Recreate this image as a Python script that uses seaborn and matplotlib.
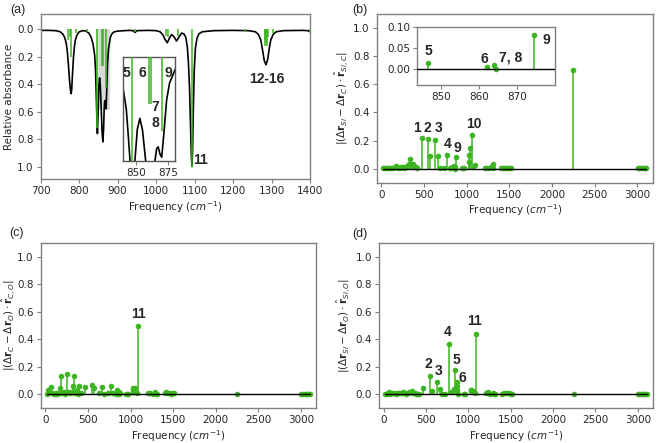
import numpy as np
import matplotlib
matplotlib.use('Agg')
import matplotlib.pyplot as plt
from matplotlib.patches import Rectangle
import seaborn as sns

sns.set_style('ticks')
plt.rcParams['font.family'] = ['DejaVu Sans']
plt.rcParams['mathtext.fontset'] = 'dejavusans'

GREEN = '#3cb521'
SPINE = '#808080'

# ---------------- panel (a) data ----------------
spec_freq = [700, 720, 740, 750, 757, 762, 766, 769, 772, 775, 777.5, 779, 780.5, 782.5, 785, 787.5,
             790, 794, 800, 810, 818, 825, 831, 836, 840.2, 842.5, 844, 845.4, 847.3, 849.2, 851,
             853, 855, 857.5, 859.5, 861.5, 863.5, 864.7, 866, 867.2, 868.5, 869.9, 871.5, 873.7,
             876, 878.8, 881, 885, 890, 900, 930, 940, 945, 950, 980, 1000, 1010, 1017, 1023, 1029,
             1034, 1040, 1046, 1053, 1059, 1066, 1072, 1077, 1081, 1084, 1087, 1089.5, 1091.5, 1093,
             1094.5, 1096.5, 1099, 1102, 1106, 1111, 1120, 1150, 1200, 1240, 1258, 1266, 1272, 1277,
             1281, 1285.5, 1290, 1294, 1298, 1304, 1312, 1330, 1380, 1395, 1400]
spec_abs = [0.01, 0.01, 0.012, 0.02, 0.035, 0.06, 0.1, 0.16, 0.26, 0.38, 0.45, 0.47, 0.44, 0.33, 0.21, 0.13,
            0.08, 0.045, 0.02, 0.012, 0.015, 0.03, 0.06, 0.11, 0.19, 0.3, 0.45, 0.6, 0.76, 0.6, 0.42,
            0.355, 0.42, 0.6, 0.75, 0.82, 0.72, 0.6, 0.53, 0.52, 0.56, 0.58, 0.45, 0.25,
            0.15, 0.1, 0.06, 0.035, 0.022, 0.015, 0.01, 0.012, 0.025, 0.012, 0.01, 0.012, 0.02, 0.04, 0.075, 0.1,
            0.07, 0.04, 0.055, 0.087, 0.06, 0.03, 0.035, 0.06, 0.13, 0.25, 0.45, 0.72, 0.92, 1.0,
            0.9, 0.6, 0.3, 0.14, 0.07, 0.035, 0.02, 0.012, 0.01, 0.012, 0.02, 0.04, 0.08, 0.16,
            0.23, 0.26, 0.22, 0.14, 0.08, 0.04, 0.02, 0.012, 0.01, 0.012, 0.02]

stick_freq = [770, 775, 778.5, 792, 821, 846.7, 860, 862, 870.3, 945, 1026, 1030, 1058, 1093,
              1231, 1282, 1284, 1286, 1288, 1290, 1303, 1399]
stick_int = [0.08, 0.06, 0.2, 0.03, 0.02, 0.72, 0.27, 0.27, 0.43, 0.02, 0.05, 0.06, 0.05, 1.0,
             0.015, 0.08, 0.12, 0.1, 0.12, 0.06, 0.03, 0.02]

# ---------------- panels (b)-(d) data: normal modes ----------------
mode_freq = [20, 35, 50, 62, 80, 100, 120, 140, 160, 175, 185, 200, 215, 230, 248, 265, 285, 305, 320,
             332, 350, 372, 385, 400, 415, 470, 545, 570, 625, 660, 690, 730, 770, 800, 825,
             846.5, 862, 864, 864.5, 874.5, 945, 965, 1028, 1030, 1033, 1056, 1075, 1093,
             1210, 1230, 1260, 1290, 1305, 1310, 1400, 1420, 1440, 1460, 1480, 1500, 1515,
             2250, 3005, 3020, 3040, 3060, 3075, 3090, 3105]
si_c = [0.002, 0.003, 0.005, 0.004, 0.006, 0.008, 0.005, 0.003, 0.01, 0.02, 0.012, 0.008, 0.006, 0.01,
        0.012, 0.005, 0.015, 0.02, 0.03, 0.068, 0.036, 0.03, 0.02, 0.01, 0.005, 0.217, 0.212, 0.089,
        0.207, 0.089, 0.003, 0.002, 0.10, 0.008, 0.01, 0.016, 0.005, 0.009, 0.0, 0.082, 0.002, 0.003,
        0.048, 0.096, 0.149, 0.24, 0.01, 0.025, 0.003, 0.004, 0.002, 0.01, 0.03, 0.005, 0.004, 0.006,
        0.008, 0.005, 0.006, 0.004, 0.003, 0.70, 0.001, 0.001, 0.001, 0.001, 0.001, 0.001, 0.001]
c_o = [0.005, 0.03, 0.02, 0.056, 0.01, 0.005, 0.01, 0.005, 0.008, 0.044, 0.134, 0.01, 0.02, 0.005,
       0.146, 0.02, 0.01, 0.02, 0.06, 0.134, 0.01, 0.03, 0.005, 0.06, 0.01, 0.056, 0.068, 0.049,
       0.01, 0.056, 0.005, 0.01, 0.063, 0.01, 0.005, 0.03, 0.02, 0.01, 0.005, 0.008, 0.003, 0.002,
       0.02, 0.03, 0.044, 0.049, 0.01, 0.495, 0.01, 0.012, 0.004, 0.015, 0.005, 0.005, 0.01, 0.02,
       0.008, 0.01, 0.005, 0.01, 0.012, 0.002, 0.001, 0.001, 0.001, 0.001, 0.001, 0.001, 0.001]
si_o = [0.005, 0.003, 0.01, 0.015, 0.005, 0.008, 0.006, 0.004, 0.01, 0.012, 0.008, 0.006, 0.01, 0.015,
        0.01, 0.005, 0.012, 0.015, 0.02, 0.022, 0.012, 0.01, 0.005, 0.004, 0.003, 0.044, 0.136, 0.027,
        0.09, 0.041, 0.005, 0.003, 0.367, 0.02, 0.035, 0.178, 0.09, 0.06, 0.03, 0.005, 0.003, 0.004,
        0.03, 0.025, 0.028, 0.025, 0.01, 0.435, 0.01, 0.015, 0.005, 0.012, 0.004, 0.003, 0.004, 0.006,
        0.008, 0.006, 0.01, 0.005, 0.004, 0.002, 0.001, 0.001, 0.001, 0.001, 0.001, 0.001, 0.001]

b_labels = ['1', '2', '3', '4', '9', '10']
b_label_x = [420, 536, 665, 771, 892, 1087]
b_label_y = [0.29, 0.29, 0.29, 0.178, 0.15, 0.32]
b_in_labels = ['5', '6', '7, 8', '9']
b_in_label_x = [846.5, 861.3, 868.3, 877.8]
b_in_label_y = [0.044, 0.024, 0.028, 0.071]
c_labels = ['11']
c_label_x = [1088]
c_label_y = [0.585]
d_labels = ['2', '3', '4', '5', '6', '11']
d_label_x = [532, 651, 758, 860, 935, 1073]
d_label_y = [0.217, 0.17, 0.45, 0.246, 0.12, 0.53]

TICK_FS = 7.5
ANN = dict(fontsize=10, fontweight='bold', family=['Liberation Sans', 'DejaVu Sans'],
           ha='center', va='center')


def style(ax):
    for s in ax.spines.values():
        s.set_color(SPINE)
        s.set_linewidth(1.0)
    ax.tick_params(labelsize=TICK_FS, length=3, width=0.8, color=SPINE, pad=2)


def stems(ax, f, v):
    ax.vlines(f, 0, v, color=GREEN, lw=1.1, zorder=2)
    sns.scatterplot(x=f, y=v, ax=ax, color=GREEN, s=16, linewidth=0, zorder=3, legend=False)
    ax.plot([min(f), max(f)], [0, 0], color='black', lw=1.0, zorder=4)


fig = plt.figure(figsize=(6.58, 4.43), dpi=100)
ax_a = fig.add_axes([0.0619, 0.5959, 0.4093, 0.3725])
ax_b = fig.add_axes([0.5725, 0.5876, 0.4195, 0.3808])
ax_c = fig.add_axes([0.0619, 0.0790, 0.4184, 0.3725])
ax_d = fig.add_axes([0.5760, 0.0790, 0.4164, 0.3725])

# ---- (a)
ax_a.add_patch(Rectangle((844, 0), 36, 0.59, facecolor='#d9d9d9', edgecolor='none', zorder=0))
sns.lineplot(x=spec_freq, y=spec_abs, ax=ax_a, color='black', lw=1.2, zorder=2, estimator=None)
ax_a.vlines(stick_freq, 0, stick_int, color=GREEN, lw=1.1, zorder=3)
ax_a.set_xlim(700, 1400)
ax_a.set_ylim(1.09, -0.109)
ax_a.set_xticks(range(700, 1401, 100))
ax_a.set_yticks([0, 0.2, 0.4, 0.6, 0.8, 1.0])
ax_a.set_yticklabels(['0.0', '0.2', '0.4', '0.6', '0.8', '1.0'])
ax_a.set_xlabel(r'Frequency ($cm^{-1}$)', fontsize=TICK_FS, labelpad=2)
ax_a.set_ylabel('Relative absorbance', fontsize=TICK_FS)
style(ax_a)
ax_a.text(1114, 0.95, '11', **ANN)
ax_a.text(1287.5, 0.363, '12-16', **ANN)

ax_ai = fig.add_axes([123.3 / 658, 1 - 160.7 / 443, 51.7 / 658, 103.7 / 443])
sns.lineplot(x=spec_freq, y=spec_abs, ax=ax_ai, color='black', lw=1.2, zorder=2, estimator=None)
ax_ai.vlines(stick_freq, 0, stick_int, color=GREEN, lw=1.1, zorder=3)
ax_ai.set_xlim(840.2, 880.2)
ax_ai.set_ylim(0.6, 0)
ax_ai.set_xticks([850, 875])
ax_ai.set_yticks([])
ax_ai.set_xlabel('')
ax_ai.set_ylabel('')
style(ax_ai)
for s in ax_ai.spines.values():
    s.set_color('#555555')
for t, x, y in zip(['5', '6', '9', '7', '8'], [0.066, 0.375, 0.87, 0.62, 0.62],
                   [0.843, 0.843, 0.843, 0.515, 0.36]):
    ax_ai.text(x, y, t, transform=ax_ai.transAxes, **ANN)

# ---- (b)-(d)
ylab_b = r'$|(\Delta\mathbf{r}_{Si} - \Delta\mathbf{r}_{C})\cdot\hat{\mathbf{r}}_{Si,C}|$'
ylab_c = r'$|(\Delta\mathbf{r}_{C} - \Delta\mathbf{r}_{O})\cdot\hat{\mathbf{r}}_{C,O}|$'
ylab_d = r'$|(\Delta\mathbf{r}_{Si} - \Delta\mathbf{r}_{O})\cdot\hat{\mathbf{r}}_{Si,O}|$'

for ax, vals, ylab, labs, lx, ly in [(ax_b, si_c, ylab_b, b_labels, b_label_x, b_label_y),
                                     (ax_c, c_o, ylab_c, c_labels, c_label_x, c_label_y),
                                     (ax_d, si_o, ylab_d, d_labels, d_label_x, d_label_y)]:
    stems(ax, mode_freq, vals)
    ax.set_xlim(-55, 3180)
    ax.set_ylim(-0.1, 1.1)
    ax.set_xticks(range(0, 3001, 500))
    ax.set_yticks([0, 0.2, 0.4, 0.6, 0.8, 1.0])
    ax.set_yticklabels(['0.0', '0.2', '0.4', '0.6', '0.8', '1.0'])
    ax.set_xlabel(r'Frequency ($cm^{-1}$)', fontsize=TICK_FS, labelpad=2)
    ax.set_ylabel(ylab, fontsize=TICK_FS)
    style(ax)
    for t, x, y in zip(labs, lx, ly):
        ax.text(x, y, t, **ANN)

ax_a.yaxis.set_label_coords(-0.100, 0.5)
ax_b.yaxis.set_label_coords(-0.097, 0.5)
ax_c.yaxis.set_label_coords(-0.087, 0.5)
ax_d.yaxis.set_label_coords(-0.100, 0.5)

ax_bi = fig.add_axes([0.634, 0.808, 0.2097, 0.130])
stems(ax_bi, mode_freq, si_c)
ax_bi.set_xlim(843.6, 880.1)
ax_bi.set_ylim(-0.038, 0.10)
ax_bi.set_xticks([850, 860, 870])
ax_bi.set_yticks([0.0, 0.05, 0.10])
ax_bi.set_yticklabels(['0.00', '0.05', '0.10'])
style(ax_bi)
for t, x, y in zip(b_in_labels, b_in_label_x, b_in_label_y):
    ax_bi.text(x, y, t, **ANN)

PL = dict(fontsize=9, family=['Liberation Sans', 'DejaVu Sans'], ha='center', va='center')
fig.text(18 / 658, 1 - 10 / 443, '(a)', **PL)
fig.text(360 / 658, 1 - 10 / 443, '(b)', **PL)
fig.text(17 / 658, 1 - 233 / 443, '(c)', **PL)
fig.text(360 / 658, 1 - 234 / 443, '(d)', **PL)

fig.savefig('out.png', dpi=100)
